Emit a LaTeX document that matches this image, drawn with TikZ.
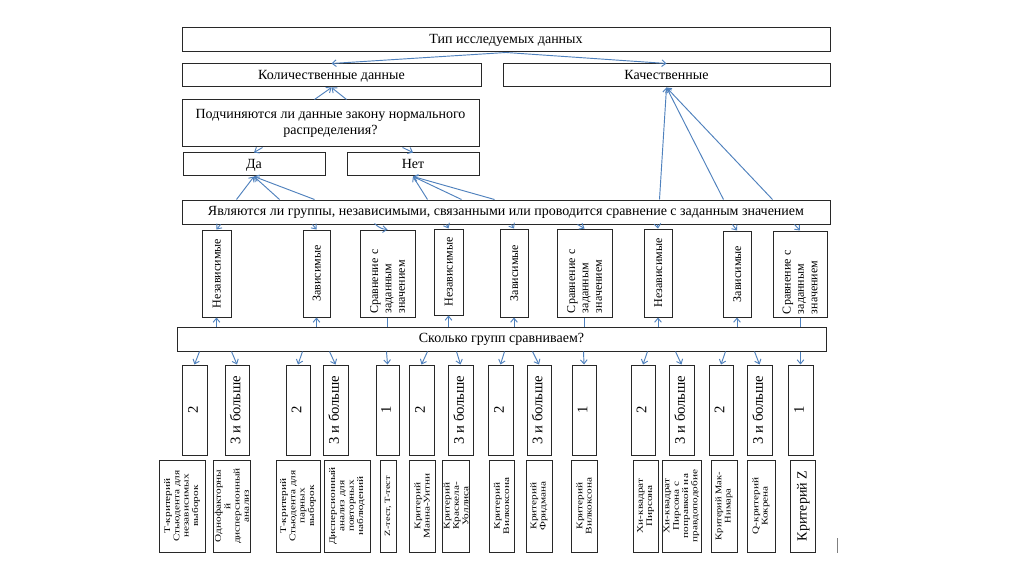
\documentclass[tikz,border=0pt]{standalone}
\usepackage{fontspec}
\setmainfont{Liberation Serif}
\newfontfamily\serif{Liberation Serif}
\usetikzlibrary{arrows.meta,calc}
\definecolor{linkblue}{RGB}{79,129,189}
\definecolor{edgegray}{RGB}{40,40,40}
\tikzset{
  box/.style={draw=edgegray, line width=0.75pt, inner sep=1pt, fill=white},
  link/.style={draw=linkblue, line width=0.7pt},
  arr/.style={link, -{Straight Barb[length=3pt,width=5pt]}},
  one/.style={text height=7.5pt, text depth=2pt},
  htext/.style={font=\serif\fontsize{10.5}{12.5}\selectfont},
  vtext/.style={font=\serif\fontsize{9}{10}\selectfont, text height=6.5pt, text depth=0.5pt},
  vleft/.style={font=\serif\fontsize{9}{10}\selectfont, align=left, text width=60pt},
  ntext/.style={font=\serif\fontsize{11}{13}\selectfont, text height=6pt, text depth=1pt},
  btext/.style={font=\serif\fontsize{6.5}{7}\selectfont},
  bsmall/.style={font=\serif\fontsize{6}{6.5}\selectfont},
  bbig/.style={font=\serif\fontsize{10.5}{12}\selectfont, text height=6.5pt, text depth=0.5pt},
}
\newcommand\hbx[7][one]{\node[box, htext, align=center, #1, minimum width={(#5-#3)*0.75pt}, minimum height={(#6-#4)*0.75pt}] (#2) at ({(#3+#5)/2},{(#4+#6)/2}) {#7};}
\newcommand\vbx[7]{\node[box, rotate=90, align=center, minimum width={(#5-#3)*0.75pt}, minimum height={(#4-#2)*0.75pt}, #6] (#1) at ({(#2+#4)/2},{(#3+#5)/2}) {#7};}
\newcommand\sbx[8][1.3]{\node[box, rotate=90, xscale=#1, align=center, minimum width={(#6-#4)*0.75pt/#1}, minimum height={(#5-#3)*0.75pt}, #7] (#2) at ({(#3+#5)/2},{(#4+#6)/2}) {#8};}
\begin{document}
\begin{tikzpicture}[x=0.75pt,y=-0.75pt]
\useasboundingbox (0,0) rectangle (1024,574);
\fill[white] (0,0) rectangle (1024,574);

% horizontal boxes
\hbx{top}{182}{28}{830}{52}{Тип исследуемых данных}
\hbx{kol}{182}{64}{481}{87}{Количественные данные}
\hbx{kach}{503}{64}{830}{87}{Качественные}
\hbx[]{podch}{182}{100}{479}{147}{Подчиняются ли данные закону нормального\\распределения?}
\hbx{da}{183}{153}{325}{176}{Да}
\hbx{net}{347}{153}{479}{176}{Нет}
\hbx{grp}{182}{200}{830}{224}{Являются ли группы, независимыми, связанными или проводится сравнение с заданным значением}
\hbx{skolko}{177}{327}{826}{351}{Сколько групп сравниваем?}

% vertical boxes (group type)
\vbx{v1}{202}{230}{231}{317}{vtext}{Независимые}
\vbx{v2}{303}{230}{330}{317}{vtext}{Зависимые}
\vbx{v3}{360}{230}{415}{317}{vleft}{Сравнение с\\заданным\\значением}
\vbx{v4}{434}{229}{463}{315}{vtext}{Независимые}
\vbx{v5}{500}{229}{528}{317}{vtext}{Зависимые}
\vbx{v6}{557}{229}{612}{317}{vleft}{Сравнение с\\заданным\\значением}
\vbx{v7}{644}{229}{672}{317}{vtext}{Независимые}
\vbx{v8}{723}{231}{751}{317}{vtext}{Зависимые}
\vbx{v9}{773}{231}{827}{317}{vleft}{Сравнение с\\заданным\\значением}

% number boxes
\vbx{n1}{182}{365}{207}{455}{ntext}{2}
\vbx{n2}{225}{365}{249}{455}{ntext}{3 и больше}
\vbx{n3}{286}{365}{310}{455}{ntext}{2}
\vbx{n4}{323}{365}{348}{455}{ntext}{3 и больше}
\vbx{n5}{376}{365}{399}{455}{ntext}{1}
\vbx{n6}{409}{365}{434}{455}{ntext}{2}
\vbx{n7}{448}{365}{473}{455}{ntext}{3 и больше}
\vbx{n8}{488}{365}{513}{455}{ntext}{2}
\vbx{n9}{527}{365}{551}{455}{ntext}{3 и больше}
\vbx{n10}{572}{365}{596}{455}{ntext}{1}
\vbx{n11}{631}{365}{655}{455}{ntext}{2}
\vbx{n12}{669}{365}{694}{455}{ntext}{3 и больше}
\vbx{n13}{709}{365}{733}{455}{ntext}{2}
\vbx{n14}{747}{365}{772}{455}{ntext}{3 и больше}
\vbx{n15}{788}{365}{813}{455}{ntext}{1}

% bottom boxes (tests)
\sbx{b1}{159}{460}{205}{552}{btext}{Т-критерий\\Стьюдента для\\независимых\\выборок}
\sbx{b2}{214}{460}{250}{552}{btext}{Однофакторны\\й\\дисперсионный\\анализ}
\sbx{b3}{276}{460}{320}{552}{btext}{Т-критерий\\Стьюдента для\\парных\\выборок}
\sbx{b4}{324}{460}{370}{552}{btext}{Дисперсионный\\анализ для\\повторных\\наблюдений}
\sbx{b5}{380}{460}{396}{552}{bsmall}{Z-тест, T-тест}
\sbx{b6}{409}{460}{435}{552}{btext}{Критерий\\Манна-Уитни}
\sbx{b7}{443}{460}{469}{552}{btext}{Критерий\\Краскела-\\Уоллиса}
\sbx{b8}{489}{460}{514}{552}{btext}{Критерий\\Вилкоксона}
\sbx{b9}{526}{460}{552}{552}{btext}{Критерий\\Фридмана}
\sbx{b10}{571}{460}{597}{552}{btext}{Критерий\\Вилкоксона}
\sbx{b11}{633}{460}{658}{552}{btext}{Хи-квадрат\\Пирсона}
\sbx{b12}{662}{460}{701}{552}{btext}{Хи-квадрат\\Пирсона с\\поправкой на\\правдоподобие}
\sbx[1.2]{b13}{711}{460}{737}{552}{btext}{Критерий Мак-\\Нимара}
\sbx{b14}{747}{460}{775}{552}{btext}{Q-критерий\\Кокрена}
\vbx{b15}{790}{460}{815}{552}{bbig}{Критерий Z}

% stray mark
\draw[gray, line width=0.6pt] (837,538) -- (837,553);

% connectors: top level
\draw[arr] (top.south) -- (kol.north);
\draw[arr] (top.south) -- (kach.north);
\draw[arr] ($(podch.north)+(-16,0)$) -- (kol.south);
\draw[arr] ($(podch.north)+(16,0)$) -- (kol.south);
\draw[arr] ($(podch.south)+(-68,0)$) -- (da.north);
\draw[arr] ($(podch.south)+(72,0)$) -- (net.north);

% fans into group question
\foreach \dx in {55,98,133} \draw[arr] ($(grp.north west)+(\dx,0)$) -- (da.south);
\foreach \dx in {246,280,313} \draw[arr] ($(grp.north west)+(\dx,0)$) -- (net.south);
\foreach \dx in {478,542,591} \draw[arr] ($(grp.north west)+(\dx,0)$) -- (kach.south);

% group question to group-type boxes
\draw[arr] ($(grp.south west)+(39,0)$) -- (v1.east);
\draw[arr] ($(grp.south west)+(131,0)$) -- (v2.east);
\draw[arr] ($(grp.south west)+(193,-1)$) to[bend right=20] (v3.east);
\draw[arr] ($(grp.south west)+(265,0)$) -- (v4.east);
\draw[arr] ($(grp.south west)+(330,0)$) -- (v5.east);
\draw[arr] ($(grp.south west)+(396,0)$) -- (v6.east);
\draw[arr] ($(grp.south west)+(476,0)$) -- (v7.east);
\draw[arr] ($(grp.south west)+(551,0)$) -- (v8.east);
\draw[arr] ($(grp.south west)+(613,0)$) -- (v9.east);

% "how many groups" box to group-type boxes
\foreach \v in {v1,v2,v4,v5,v7,v8} \draw[arr] (\v.west |- skolko.north) -- (\v.west);
\foreach \v in {v3,v6,v9} \draw[link] (\v.west |- skolko.north) -- (\v.west);

% "how many groups" box to number boxes
\foreach \n/\dx in {n1/23,n2/55,n3/126,n4/153,n5/210,n6/251,n7/280,n8/328,n9/356,n10/407,n11/471,n12/499,n13/549,n14/578,n15/624}
  \draw[arr] ($(skolko.south west)+(\dx,0)$) -- (\n.east);
\end{tikzpicture}
\end{document}
